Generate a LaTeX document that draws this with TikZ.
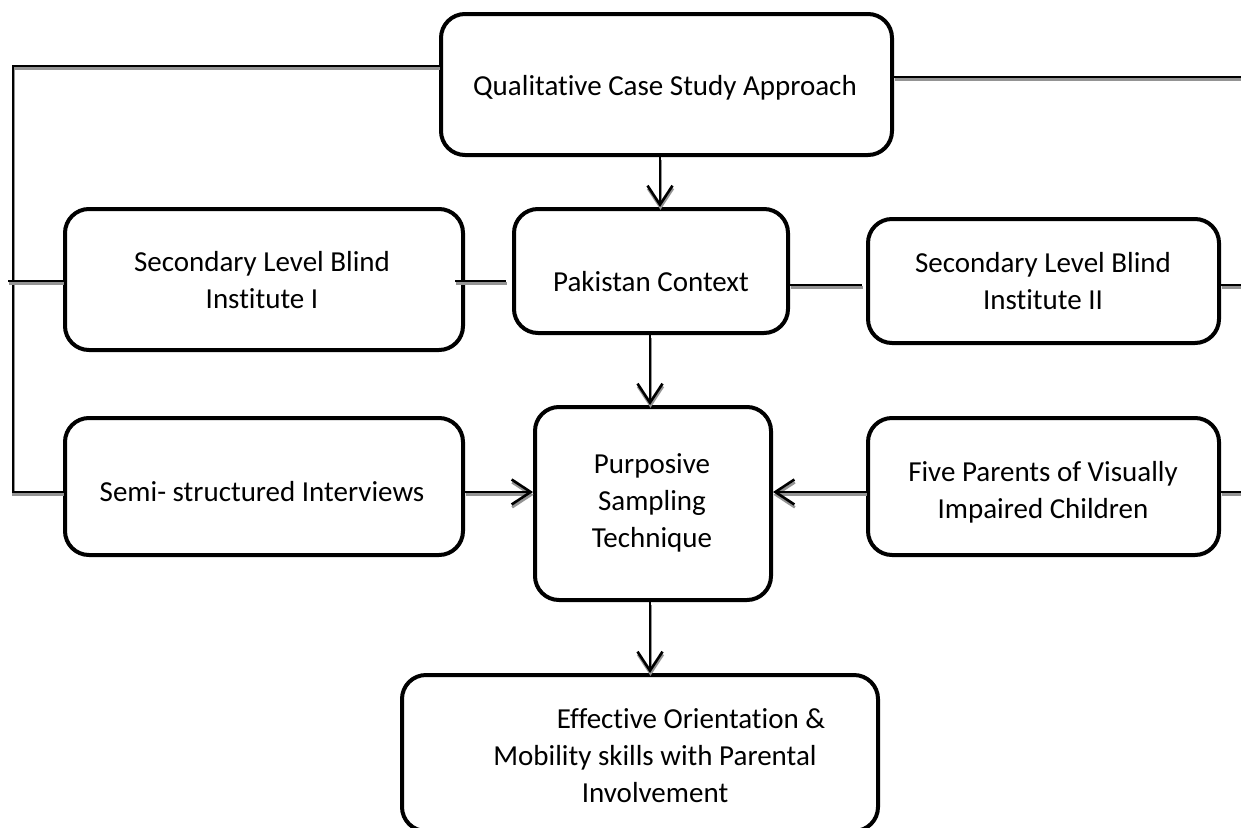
\documentclass[tikz,border=0pt]{standalone}
\usepackage{fontspec}
\setmainfont{Carlito}[Ligatures=NoCommon]
\usetikzlibrary{arrows.meta}
\begin{document}
\begin{tikzpicture}[x=1pt,y=-1pt,
  box/.style={draw, line width=4pt, rounded corners=24pt, inner sep=0pt},
  txt/.style={font=\fontsize{29}{37}\selectfont, align=center, inner sep=0pt},
  conn/.style={line width=2.5pt, preaction={draw=black!42, line width=3pt, transform canvas={shift={(0.5pt,-2.8pt)}}}},
  arr/.style={conn, -{Straight Barb[length=19pt,width=25pt,line width=2.6pt]}}]
\clip (0,0) rectangle (1241,827);
% boxes
\node[box, minimum width=451pt, minimum height=141pt] (qual) at (666.5,84.5) {};
\node[box, minimum width=398pt, minimum height=141pt] (sec1) at (264,279.5) {};
\node[box, minimum width=274pt, minimum height=124pt] (pak) at (651,271) {};
\node[box, minimum width=351pt, minimum height=124pt] (sec2) at (1043.5,281) {};
\node[box, minimum width=398pt, minimum height=137pt] (semi) at (264,486.5) {};
\node[box, minimum width=236pt, minimum height=193pt] (purp) at (653,503.5) {};
\node[box, minimum width=351pt, minimum height=137pt] (five) at (1043.5,486.5) {};
\node[box, minimum width=476pt, minimum height=156pt] (bot) at (640,753) {};
% texts
\node[txt] (qual-t) at (665,88) {Qualitative Case Study Approach};
\node[txt] (sec1-t) at (262,280) {Secondary Level Blind\\Institute I};
\node[txt] (pak-t) at (651,282) {Pakistan Context};
\node[txt] (sec2-t) at (1043,281) {Secondary Level Blind\\Institute II};
\node[txt] (semi-t) at (262,492) {Semi- structured Interviews};
\node[txt] (purp-t) at (652,503) {Purposive\\Sampling\\Technique};
\node[txt] (five-t) at (1043,492) {Five Parents of Visually\\Impaired Children};
\node[txt] (bot-t) at (655,756) {\hspace*{72pt}Effective Orientation \&\\Mobility skills with Parental\\Involvement};
% coordinates
\coordinate (tl) at (13,66);
\coordinate (bl) at (13,492);
\coordinate (ml) at (8,281);
\coordinate (r1) at (862,285);
\coordinate (r2) at (1241,285);
\coordinate (tr) at (1241,77);
\coordinate (r3) at (1241,492);
\coordinate (l1) at (455,281);
\coordinate (v1) at (660,0);
\coordinate (v2) at (650,0);
% connectors
\draw[conn] (qual.west |- tl) -- (tl) -- (bl) -- (semi.west |- bl);
\draw[conn] (ml) -- (sec1.west |- ml);
\draw[conn] (l1) -- ([xshift=-6pt]pak.west |- l1);
\draw[conn] (pak.east |- r1) -- (r1);
\draw[conn] (sec2.east |- r2) -- (r2);
\draw[conn] (qual.east |- tr) -- (tr);
\draw[conn] (five.east |- r3) -- (r3);
\draw[arr] (semi.east |- bl) -- (purp.west |- bl);
\draw[arr] (five.west |- r3) -- (purp.east |- r3);
\draw[arr] (qual.south -| v1) -- (pak.north -| v1);
\draw[arr] (pak.south -| v2) -- (purp.north -| v2);
\draw[arr] (purp.south -| v2) -- (bot.north -| v2);
\end{tikzpicture}
\end{document}
